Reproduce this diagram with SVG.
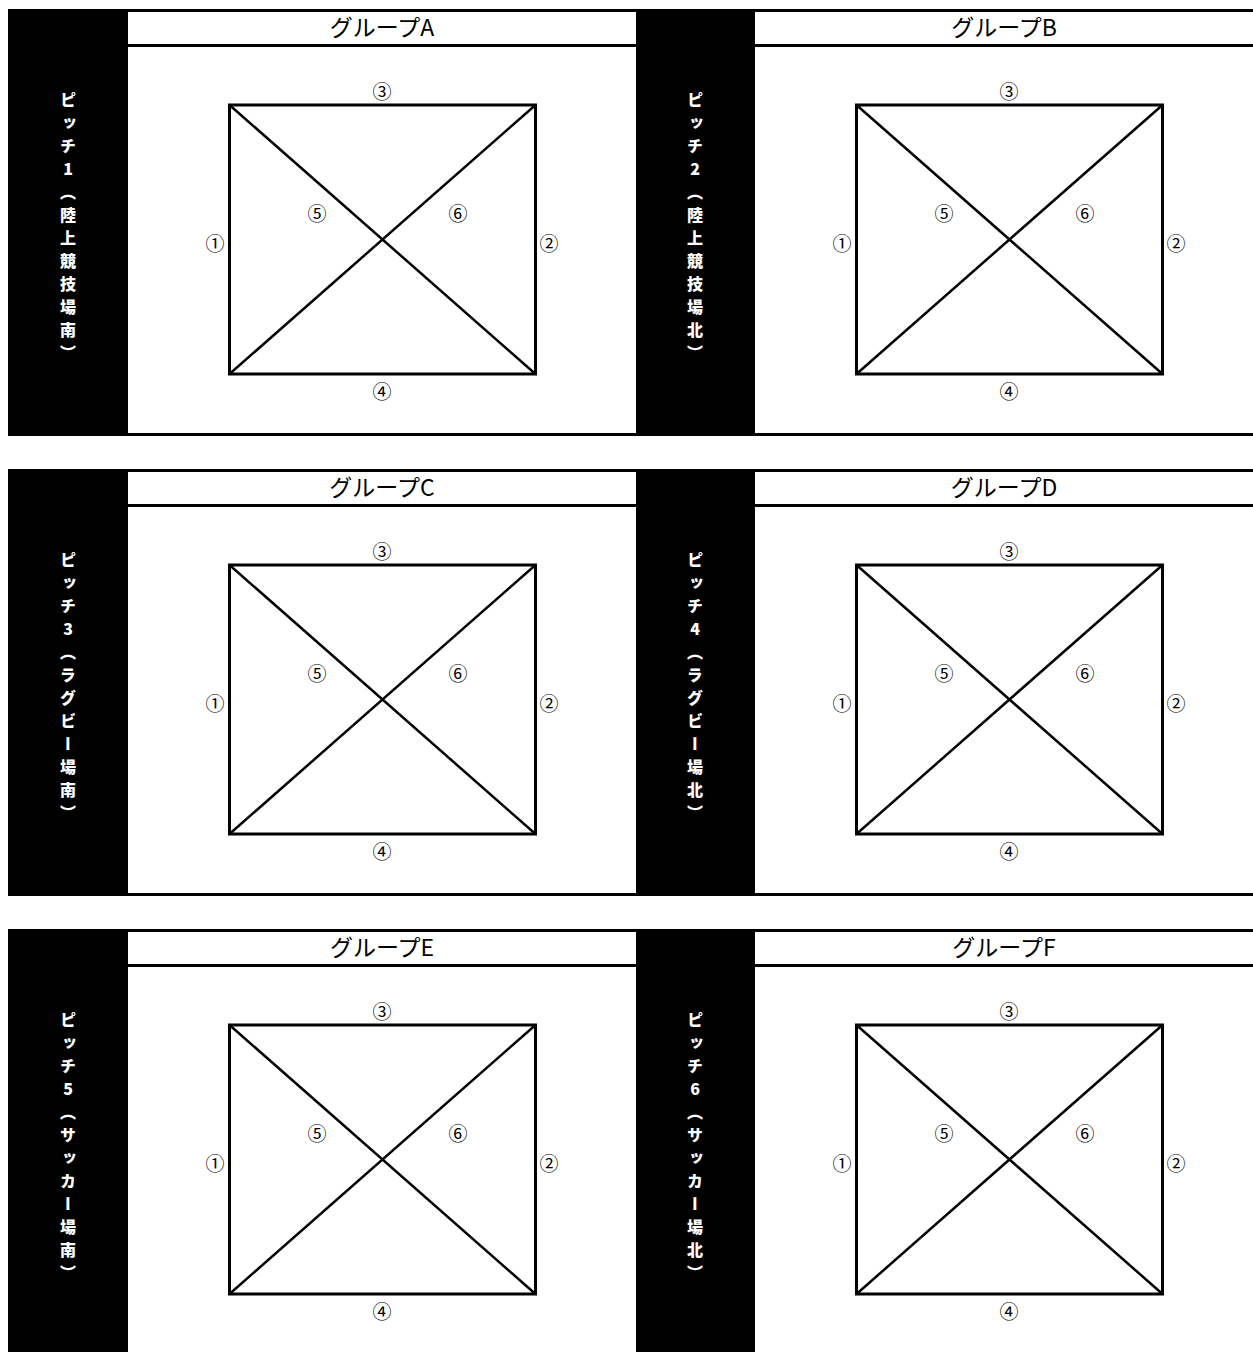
<svg xmlns="http://www.w3.org/2000/svg" width="1253" height="1352" viewBox="0 0 1253 1352">
<defs>
<style>
.bar{fill:#000}
.rule{stroke:#000;stroke-width:3;fill:none}
.sq{stroke:#000;stroke-width:3;fill:none}
.dg{stroke:#000;stroke-width:2.5;fill:none}
.hd{font-family:"Noto Sans CJK JP","Liberation Sans",sans-serif;font-size:23px;fill:#000;text-anchor:middle}
.vt{font-family:"Noto Sans CJK JP",sans-serif;font-size:16px;font-weight:900;fill:#fff;writing-mode:vertical-rl;text-orientation:upright;letter-spacing:7px}
.lb{font-family:"Noto Sans CJK JP","DejaVu Sans",sans-serif;font-size:19px;fill:#000;text-anchor:middle;dominant-baseline:central}
</style>
</defs>
<rect width="1253" height="1352" fill="#fff"/>

<g id="row1" transform="translate(0,0)">
<rect class="bar" x="8" y="9" width="120" height="426"/>
<rect class="bar" x="636" y="9" width="119" height="426"/>
<line class="rule" x1="8" y1="10.5" x2="1253" y2="10.5"/>
<line class="rule" x1="128" y1="45.5" x2="636" y2="45.5"/>
<line class="rule" x1="755" y1="45.5" x2="1253" y2="45.5"/>
<line class="rule" x1="8" y1="434.5" x2="1253" y2="434.5"/>
</g>
<g id="row2" transform="translate(0,460)">
<rect class="bar" x="8" y="9" width="120" height="426"/>
<rect class="bar" x="636" y="9" width="119" height="426"/>
<line class="rule" x1="8" y1="10.5" x2="1253" y2="10.5"/>
<line class="rule" x1="128" y1="45.5" x2="636" y2="45.5"/>
<line class="rule" x1="755" y1="45.5" x2="1253" y2="45.5"/>
<line class="rule" x1="8" y1="434.5" x2="1253" y2="434.5"/>
</g>
<g id="row3" transform="translate(0,920)">
<rect class="bar" x="8" y="9" width="120" height="432"/>
<rect class="bar" x="636" y="9" width="119" height="432"/>
<line class="rule" x1="8" y1="10.5" x2="1253" y2="10.5"/>
<line class="rule" x1="128" y1="45.5" x2="636" y2="45.5"/>
<line class="rule" x1="755" y1="45.5" x2="1253" y2="45.5"/>
</g>

<g id="groupA" transform="translate(0,0)">
<text class="hd" x="382" y="36">グループA</text>
<text class="vt" x="68" y="92">ピッチ1（陸上競技場南）</text>
<rect class="sq" x="229.5" y="105" width="306" height="269"/>
<line class="dg" x1="229.5" y1="105" x2="535.5" y2="374"/>
<line class="dg" x1="535.5" y1="105" x2="229.5" y2="374"/>
<text class="lb" x="215" y="242">①</text>
<text class="lb" x="549" y="242">②</text>
<text class="lb" x="382" y="90">③</text>
<text class="lb" x="382" y="390">④</text>
<text class="lb" x="317" y="212">⑤</text>
<text class="lb" x="458" y="212">⑥</text>
</g>
<g id="groupB" transform="translate(627,0)">
<text class="hd" x="377" y="36">グループB</text>
<text class="vt" x="68" y="92">ピッチ2（陸上競技場北）</text>
<rect class="sq" x="229.5" y="105" width="306" height="269"/>
<line class="dg" x1="229.5" y1="105" x2="535.5" y2="374"/>
<line class="dg" x1="535.5" y1="105" x2="229.5" y2="374"/>
<text class="lb" x="215" y="242">①</text>
<text class="lb" x="549" y="242">②</text>
<text class="lb" x="382" y="90">③</text>
<text class="lb" x="382" y="390">④</text>
<text class="lb" x="317" y="212">⑤</text>
<text class="lb" x="458" y="212">⑥</text>
</g>
<g id="groupC" transform="translate(0,460)">
<text class="hd" x="382" y="36">グループC</text>
<text class="vt" x="68" y="92">ピッチ3（ラグビー場南）</text>
<rect class="sq" x="229.5" y="105" width="306" height="269"/>
<line class="dg" x1="229.5" y1="105" x2="535.5" y2="374"/>
<line class="dg" x1="535.5" y1="105" x2="229.5" y2="374"/>
<text class="lb" x="215" y="242">①</text>
<text class="lb" x="549" y="242">②</text>
<text class="lb" x="382" y="90">③</text>
<text class="lb" x="382" y="390">④</text>
<text class="lb" x="317" y="212">⑤</text>
<text class="lb" x="458" y="212">⑥</text>
</g>
<g id="groupD" transform="translate(627,460)">
<text class="hd" x="377" y="36">グループD</text>
<text class="vt" x="68" y="92">ピッチ4（ラグビー場北）</text>
<rect class="sq" x="229.5" y="105" width="306" height="269"/>
<line class="dg" x1="229.5" y1="105" x2="535.5" y2="374"/>
<line class="dg" x1="535.5" y1="105" x2="229.5" y2="374"/>
<text class="lb" x="215" y="242">①</text>
<text class="lb" x="549" y="242">②</text>
<text class="lb" x="382" y="90">③</text>
<text class="lb" x="382" y="390">④</text>
<text class="lb" x="317" y="212">⑤</text>
<text class="lb" x="458" y="212">⑥</text>
</g>
<g id="groupE" transform="translate(0,920)">
<text class="hd" x="382" y="36">グループE</text>
<text class="vt" x="68" y="92">ピッチ5（サッカー場南）</text>
<rect class="sq" x="229.5" y="105" width="306" height="269"/>
<line class="dg" x1="229.5" y1="105" x2="535.5" y2="374"/>
<line class="dg" x1="535.5" y1="105" x2="229.5" y2="374"/>
<text class="lb" x="215" y="242">①</text>
<text class="lb" x="549" y="242">②</text>
<text class="lb" x="382" y="90">③</text>
<text class="lb" x="382" y="390">④</text>
<text class="lb" x="317" y="212">⑤</text>
<text class="lb" x="458" y="212">⑥</text>
</g>
<g id="groupF" transform="translate(627,920)">
<text class="hd" x="377" y="36">グループF</text>
<text class="vt" x="68" y="92">ピッチ6（サッカー場北）</text>
<rect class="sq" x="229.5" y="105" width="306" height="269"/>
<line class="dg" x1="229.5" y1="105" x2="535.5" y2="374"/>
<line class="dg" x1="535.5" y1="105" x2="229.5" y2="374"/>
<text class="lb" x="215" y="242">①</text>
<text class="lb" x="549" y="242">②</text>
<text class="lb" x="382" y="90">③</text>
<text class="lb" x="382" y="390">④</text>
<text class="lb" x="317" y="212">⑤</text>
<text class="lb" x="458" y="212">⑥</text>
</g>
</svg>
